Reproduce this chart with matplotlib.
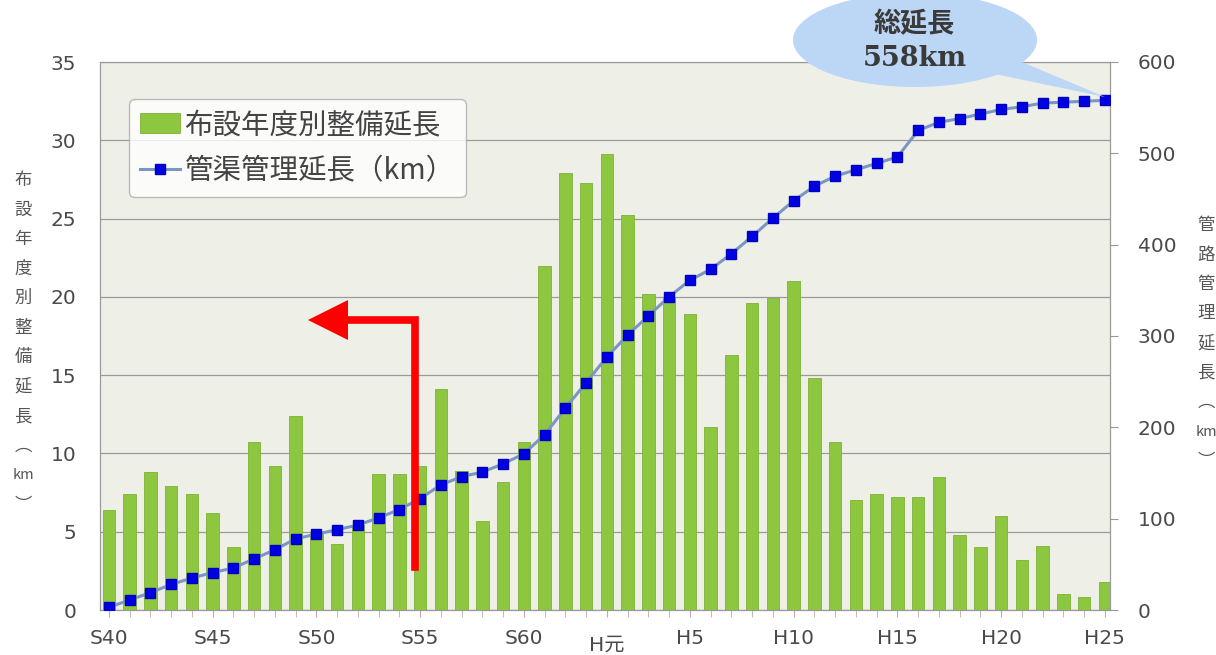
import matplotlib
matplotlib.use("Agg")
import matplotlib.pyplot as plt
from matplotlib.patches import Ellipse, Polygon
import numpy as np

plt.rcParams['font.family'] = ['DejaVu Sans', 'Noto Sans CJK JP']

# data
years = ['S40','S41','S42','S43','S44','S45','S46','S47','S48','S49',
         'S50','S51','S52','S53','S54','S55','S56','S57','S58','S59',
         'S60','S61','S62','S63','H元','H2','H3','H4','H5','H6',
         'H7','H8','H9','H10','H11','H12','H13','H14','H15','H16',
         'H17','H18','H19','H20','H21','H22','H23','H24','H25']
yearly_km = [6.4, 7.4, 8.8, 7.9, 7.4, 6.2, 4.0, 10.7, 9.2, 12.4,
             4.9, 4.2, 5.4, 8.7, 8.7, 9.2, 14.1, 8.9, 5.7, 8.2,
             10.7, 22.0, 27.9, 27.3, 29.1, 25.2, 20.2, 19.9, 18.9, 11.7,
             16.3, 19.6, 19.9, 21.0, 14.8, 10.7, 7.0, 7.4, 7.2, 7.2,
             8.5, 4.8, 4.0, 6.0, 3.2, 4.1, 1.0, 0.8, 1.8]
total_km = [3, 11, 19, 28, 35, 41, 46, 56, 66, 78,
            83, 88, 93, 101, 110, 122, 137, 146, 151, 160,
            171, 192, 221, 249, 277, 301, 322, 343, 361, 373,
            390, 409, 429, 448, 464, 475, 482, 489, 496, 525,
            534, 538, 543, 548, 551, 555, 556, 557, 558]
tick_idx = [0, 5, 10, 15, 20, 24, 28, 33, 38, 43, 48]
tick_lab = ['S40','S45','S50','S55','S60','H元','H5','H10','H15','H20','H25']

W, H = 1216, 655
fig = plt.figure(figsize=(W/100, H/100), dpi=100)
ax = fig.add_axes([100/W, 45/H, 1010/W, 548/H])
ax.set_facecolor('#eef0e8')
x = np.arange(len(years))

bars = ax.bar(x, yearly_km, width=0.6, color='#8dc63f', edgecolor='#7db235',
              linewidth=0.6, zorder=3)
ax.set_ylim(0, 35)
ax.set_yticks(range(0, 36, 5))
ax.set_xlim(-0.43, 48.25)
ax.grid(axis='y', color='#9a9a9a', lw=0.9, zorder=0)
ax.set_xticks(tick_idx)
ax.set_xticklabels(tick_lab)
ax.set_xticks(x, minor=True)
for s in ax.spines.values():
    s.set_color('#999999')
ax.tick_params(axis='y', length=0, labelsize=14.5, colors='#4a4a4a', pad=17)
ax.tick_params(axis='x', which='both', length=5, color='#c8a8a8', labelsize=14.5,
               labelcolor='#4a4a4a', pad=9)
for lab in ax.get_xticklabels():
    if lab.get_text() == 'H元':
        lab.set_y(-0.012)

ax2 = ax.twinx()
ax2.set_ylim(0, 600)
ax2.set_yticks(range(0, 601, 100))
ax2.tick_params(axis='y', length=6, color='#999999', labelsize=14.5,
                labelcolor='#4a4a4a', pad=14)
for s in ax2.spines.values():
    s.set_color('#999999')
line, = ax2.plot(x, total_km, color='#7b96c2', lw=2.2, marker='s',
                 markersize=7.5, markerfacecolor='#0000e0', markeredgecolor='#0000c0',
                 zorder=5)
ax2.set_zorder(ax.get_zorder() + 1)
ax2.patch.set_visible(False)

leg = ax2.legend([bars, line], ['布設年度別整備延長', '管渠管理延長（km）'],
                 loc='upper left', bbox_to_anchor=(29/1010, 1 - 37/548),
                 prop={'family': ['Noto Sans CJK JP'], 'size': 20.5},
                 frameon=True, fancybox=True, edgecolor='#aaaaaa',
                 handlelength=1.4, handletextpad=0.15, borderpad=0.4,
                 labelspacing=0.55, borderaxespad=0)
leg.get_frame().set_facecolor('white')
leg.get_frame().set_boxstyle('round', pad=0, rounding_size=0.2)
for t in leg.get_texts():
    t.set_color('#444444')

# vertical axis titles
left_chars = ['布','設','年','度','別','整','備','延','長','︵','km','︶']
for i, ch in enumerate(left_chars):
    fig.text(23/W, 1 - (180 + i*29.5)/H, ch, ha='center', va='center',
             fontsize=12.5 if ch != 'km' else 10.5, color='#555555',
             family=['Noto Sans CJK JP'])
right_chars = ['管','路','管','理','延','長','︵','km','︶']
for i, ch in enumerate(right_chars):
    fig.text(1206/W, 1 - (225 + i*29.5)/H, ch, ha='center', va='center',
             fontsize=12.5 if ch != 'km' else 10.5, color='#555555',
             family=['Noto Sans CJK JP'])

# red arrow
red = '#ff0000'
fig.lines.append(plt.Line2D([415/W, 415/W, 345/W], [88/H, 335/H, 335/H],
                            transform=fig.transFigure, color=red, lw=5.5,
                            solid_joinstyle='miter'))
fig.patches.append(Polygon([[308/W, 335/H], [348/W, 355/H], [348/W, 315/H]],
                           closed=True, transform=fig.transFigure,
                           facecolor=red, edgecolor='none'))

# callout bubble
bub = '#bcd6f6'
fig.patches.append(Polygon([[995/W, (655-74)/H], [1022/W, (655-62)/H], [1105/W, (655-97)/H]],
                           closed=True, transform=fig.transFigure,
                           facecolor=bub, edgecolor='none', zorder=1))
fig.patches.append(Ellipse((915/W, (655-40)/H), 244/W, 94/H, transform=fig.transFigure,
                           facecolor=bub, edgecolor='none', zorder=2))
fig.text(914/W, 1 - 24/H, '総延長', ha='center', va='center', fontsize=19.5,
         fontweight='bold', color='#3a3a3a', family=['Noto Sans CJK JP'], zorder=3)
fig.text(915/W, 1 - 58/H, '558km', ha='center', va='center', fontsize=19.5,
         fontweight='bold', color='#3a3a3a', family=['DejaVu Serif'], zorder=3)

fig.savefig('out.png', dpi=100, facecolor='white')
